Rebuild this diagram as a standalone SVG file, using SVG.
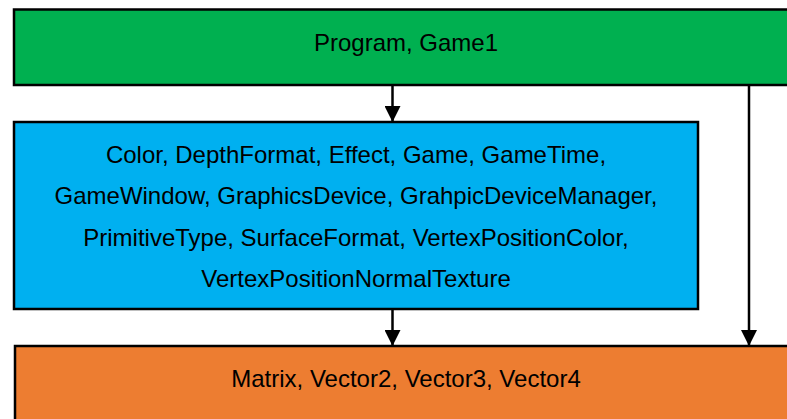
<svg xmlns="http://www.w3.org/2000/svg" width="787" height="419" viewBox="0 0 787 419">
<style>
.box{stroke:#000;stroke-width:2.5}
.t{font-family:"Liberation Sans",Arial,sans-serif;font-size:24px;fill:#000;text-anchor:middle}
.c{stroke:#000;stroke-width:2.5;fill:none}
</style>
<defs>
<marker id="ah" markerWidth="16" markerHeight="16" refX="16" refY="8" orient="auto" markerUnits="userSpaceOnUse" viewBox="0 0 16 16">
<path d="M0,0 L16,8 L0,16 Z" fill="#000"/>
</marker>
</defs>
<rect width="787" height="419" fill="#fff"/>
<g id="program">
<rect class="box" x="14" y="9.5" width="786" height="75.5" fill="#00b050"/>
<text class="t" x="406" y="51">Program, Game1</text>
</g>
<g id="graphics">
<rect class="box" x="14" y="122" width="684" height="187" fill="#00b0f0"/>
<text class="t" x="356" y="163">Color, DepthFormat, Effect, Game, GameTime,</text>
<text class="t" x="356" y="204">GameWindow, GraphicsDevice, GrahpicDeviceManager,</text>
<text class="t" x="356" y="246">PrimitiveType, SurfaceFormat, VertexPositionColor,</text>
<text class="t" x="356" y="287">VertexPositionNormalTexture</text>
</g>
<g id="math">
<rect class="box" x="15" y="346" width="786" height="80" fill="#ed7d31"/>
<text class="t" x="406" y="387">Matrix, Vector2, Vector3, Vector4</text>
</g>
<g id="connectors">
<line class="c" x1="392.5" y1="85" x2="392.5" y2="122" marker-end="url(#ah)"/>
<line class="c" x1="392.5" y1="309" x2="392.5" y2="346" marker-end="url(#ah)"/>
<line class="c" x1="749" y1="85" x2="749" y2="346" marker-end="url(#ah)"/>
</g>
</svg>
